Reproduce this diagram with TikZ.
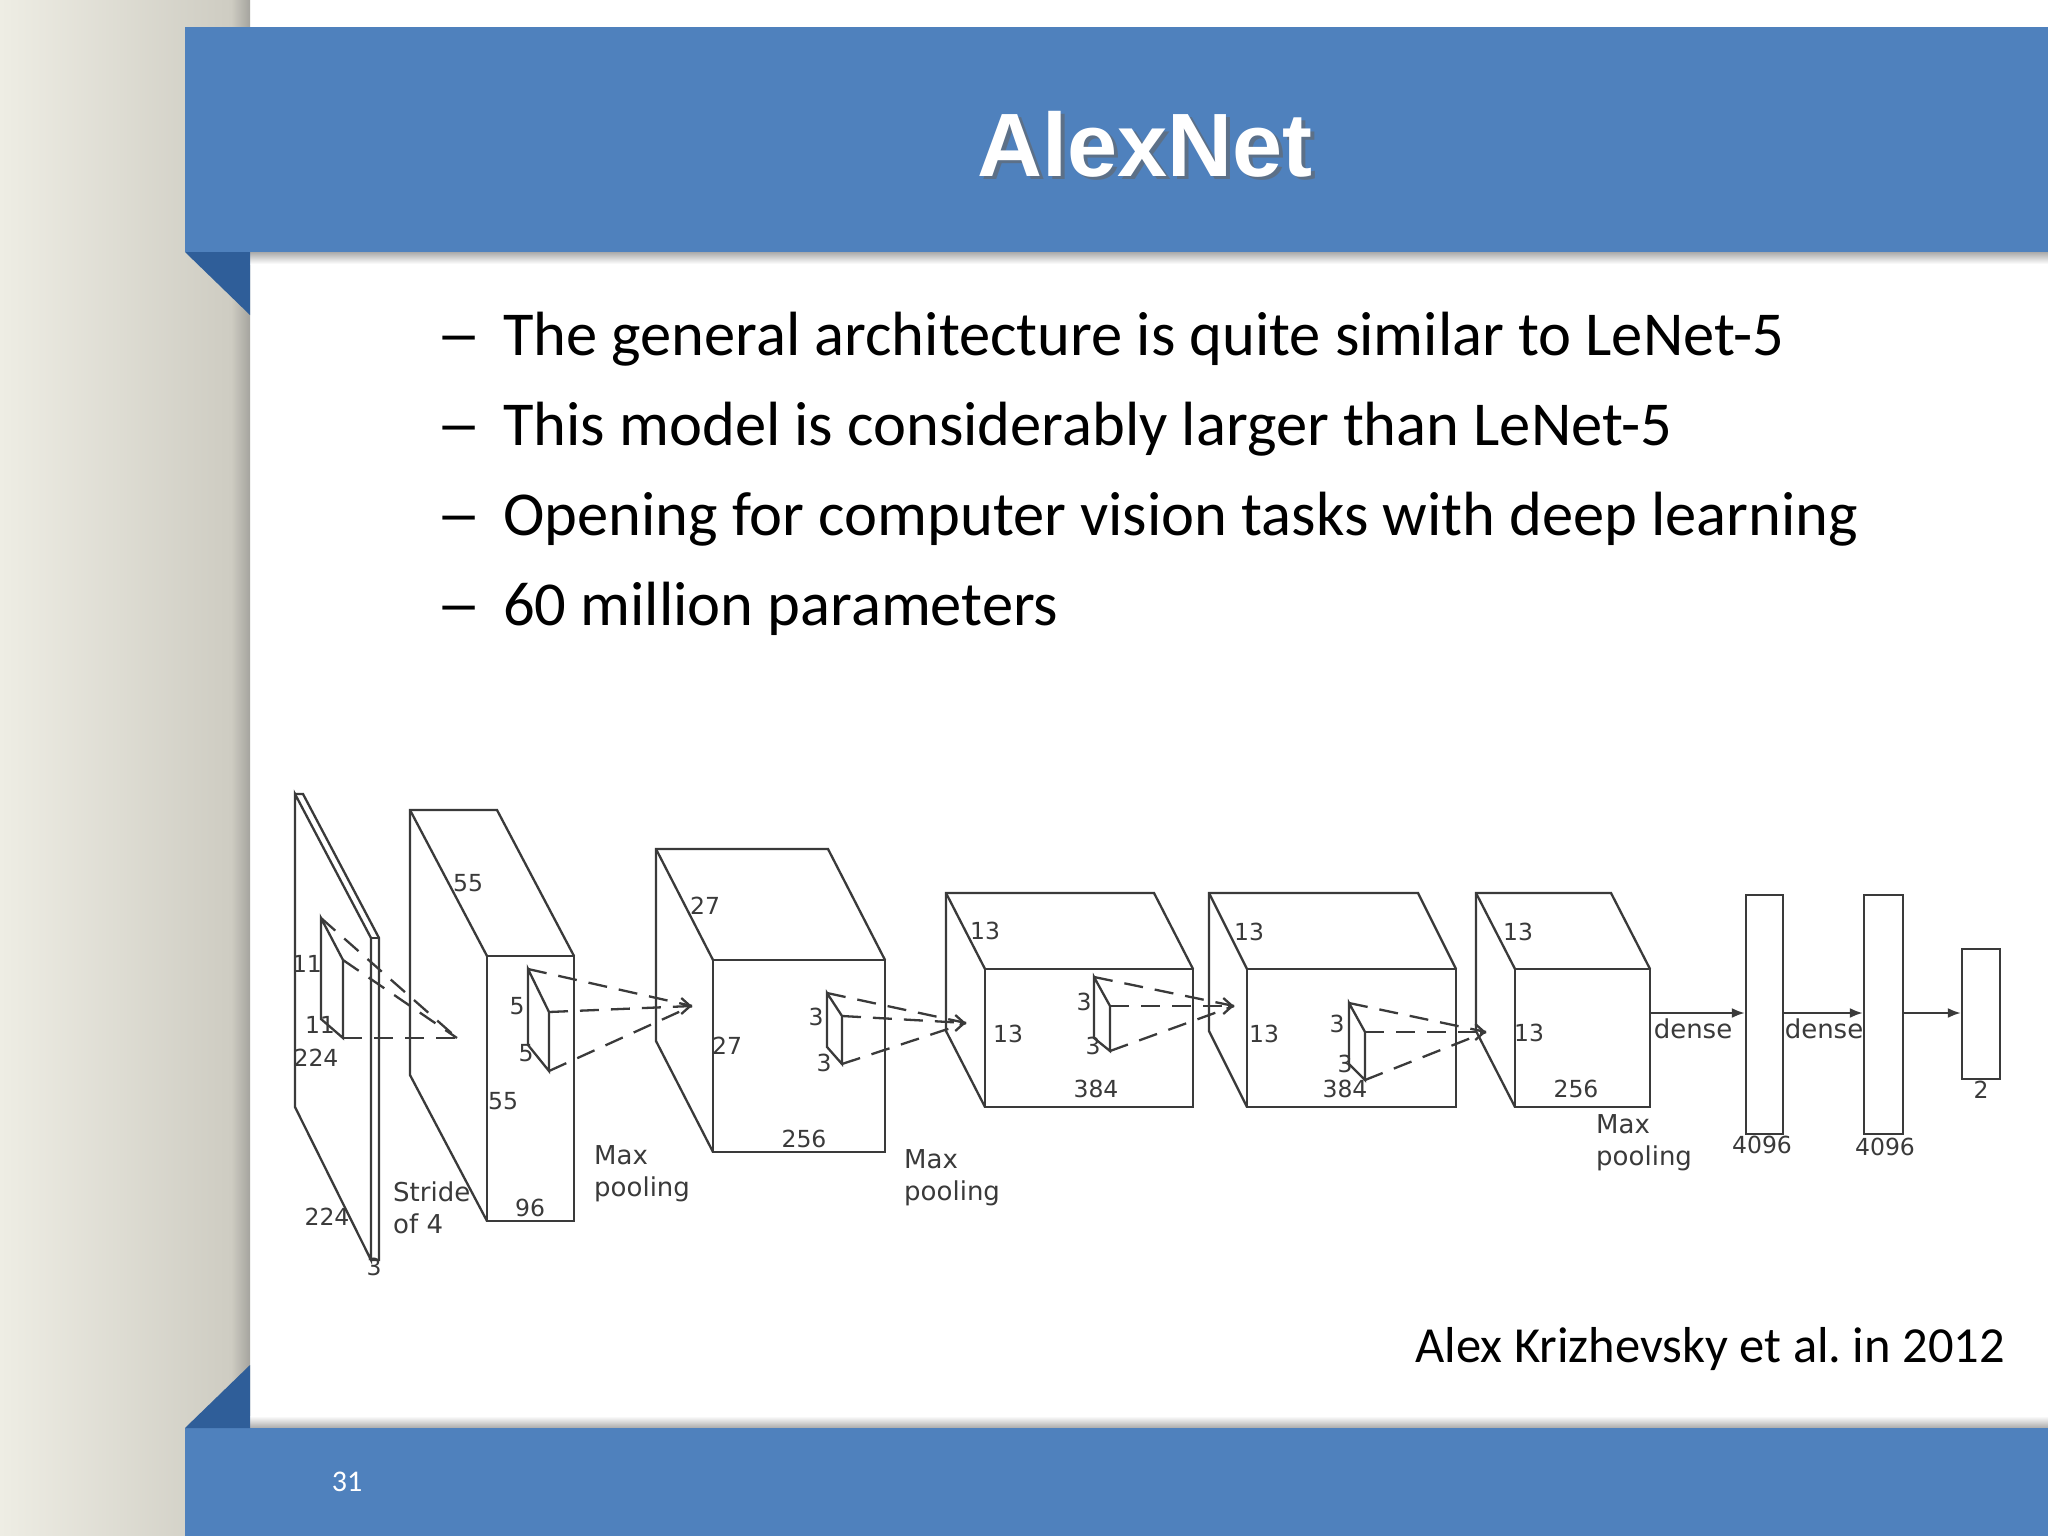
\documentclass[tikz,border=0pt]{standalone}
\usepackage{fontspec}
\setmainfont{Carlito}
\newfontfamily\titlefont{Liberation Sans}
\newfontfamily\dfont{DejaVu Sans}
\usetikzlibrary{arrows.meta,calc}
\definecolor{band}{HTML}{4F81BD}
\definecolor{fold}{HTML}{2F5E99}
\definecolor{ln}{HTML}{3A3A3A}
\tikzset{
  dl/.style={draw=ln,line width=2.3pt,line join=miter},
  dsh/.style={draw=ln,line width=2.3pt,dash pattern=on 19pt off 12pt},
  lab/.style={font=\dfont\fontsize{23.5}{26}\selectfont,text=ln,inner sep=0pt},
  blab/.style={font=\dfont\fontsize{26}{32}\selectfont,text=ln,inner sep=0pt,align=left},
  bul/.style={font=\fontsize{62.5}{64}\selectfont,anchor=base west,inner sep=0pt},
}
\newcommand{\cuboid}[7]{% name, bx, by, w, h, dx, dy
  \coordinate (#1-bl) at (#2,#3);
  \coordinate (#1-br) at (#2+#4,#3);
  \coordinate (#1-fl) at (#2+#6,#3+#7);
  \coordinate (#1-fr) at (#2+#4+#6,#3+#7);
  \coordinate (#1-fbl) at (#2+#6,#3+#7+#5);
  \coordinate (#1-fbr) at (#2+#4+#6,#3+#7+#5);
  \coordinate (#1-bbl) at (#2,#3+#5);
  \draw[dl] (#1-fbl) -- (#1-bbl) -- (#1-bl) -- (#1-br) -- (#1-fr);
  \draw[dl] (#1-bl) -- (#1-fl);
  \draw[dl] (#1-fl) rectangle (#1-fbr);
}
\newcommand{\kernbox}[7]{% name, backx, backtop, backbot, frontx, fronttop, frontbot
  \coordinate (#1-a) at (#2,#3);
  \coordinate (#1-b) at (#5,#6);
  \coordinate (#1-c) at (#5,#7);
  \coordinate (#1-d) at (#2,#4);
  \draw[dl] (#1-a) -- (#1-b) -- (#1-c) -- (#1-d) -- cycle;
}
\newcommand{\rays}[2]{% kernel name, target
  \draw[dsh] (#1-a) -- (#2);
  \draw[dsh] (#1-b) -- (#2);
  \draw[dsh] (#1-c) -- (#2);
  \draw[dl,-{Straight Barb[length=9pt,width=16pt]}] ($(#2)+(-6,0)$) -- (#2);
}
\begin{document}
\frenchspacing
\begin{tikzpicture}[x=1pt,y=-1pt]
\useasboundingbox (0,0) rectangle (2048,1536);
\fill[white] (0,0) rectangle (2048,1536);
% left strip
\shade[left color={rgb,255:red,238;green,237;blue,228}, right color={rgb,255:red,206;green,204;blue,194}] (0,0) rectangle (232,1536);
\shade[left color={rgb,255:red,206;green,204;blue,194}, right color={rgb,255:red,165;green,164;blue,158}] (231,0) rectangle (250,1536);
% header
\shade[top color={rgb,255:red,170;green,170;blue,170}, bottom color=white] (250,252) rectangle (2048,264);
\fill[band] (185,27) rectangle (2048,252);
\fill[fold] (185,252) -- (250,252) -- (250,315) -- cycle;
\node[font=\titlefont\bfseries\fontsize{90}{90}\selectfont,text=black!60,opacity=0.6] at (1149,147) {AlexNet};
\node[font=\titlefont\bfseries\fontsize{90}{90}\selectfont,text=white] (title) at (1145,144) {AlexNet};
% footer
\shade[bottom color={rgb,255:red,170;green,170;blue,170}, top color=white] (250,1416) rectangle (2048,1428);
\fill[band] (185,1428) rectangle (2048,1536);
\fill[fold] (185,1428) -- (250,1428) -- (250,1365) -- cycle;
\node[font=\fontsize{30}{30}\selectfont,text=white] (pg) at (347,1482) {31};
% bullets
\foreach \t [count=\i] in {The general architecture is quite similar to LeNet-5,This model is considerably larger than LeNet-5,Opening for computer vision tasks with deep learning,60 million parameters}{
  \node[bul] (d\i) at (436,{355+(\i-1)*90}) {\scalebox{1.45}[1]{–}};
  \node[bul] (b\i) at (503,{355+(\i-1)*90}) {\t};
}
\node[font=\fontsize{50.5}{52}\selectfont,anchor=base east,inner sep=0pt] (cite) at (2005,1362) {Alex Krizhevsky et al. in 2012};
% ===== diagram =====
% input plane
\coordinate (in-bt) at (295,794);
\coordinate (in-bb) at (295,1107);
\coordinate (in-ft) at (371,938);
\coordinate (in-fb) at (371,1260);
\draw[dl] (in-bb) -- (in-bt) -- (in-ft) -- (in-fb) -- cycle;
\draw[dl] (in-bt) -- ++(8,0) -- (379,938) -- (379,1260) -- (in-fb);
\draw[dl] (in-ft) -- (379,938);
\kernbox{k1}{321}{918}{1019}{343}{960}{1038}
\coordinate (t1) at (457,1038);
\draw[dsh] (k1-a) -- (t1);
\draw[dsh] (k1-b) -- (t1);
\draw[dsh] (k1-c) -- (t1);
\node[lab] at (307,964) {11};
\node[lab] at (320,1025) {11};
\node[lab] at (316,1058) {224};
\node[lab] at (327,1217) {224};
\node[lab] at (374,1267) {3};
% box 2
\cuboid{c2}{410}{810}{87}{265}{77}{146}
\kernbox{k2}{528}{969}{1045}{549}{1012}{1071}
\coordinate (t2) at (692,1006);
\rays{k2}{t2}
\node[lab] at (468,883) {55};
\node[lab] at (503,1101) {55};
\node[lab] at (530,1208) {96};
\node[lab] at (517,1006) {5};
\node[lab] at (526,1053) {5};
\node[blab,anchor=north west] at (393,1182) {Stride\\of 4};
\node[blab,anchor=north west] at (594,1145) {Max\\pooling};
% box 3
\cuboid{c3}{656}{849}{172}{192}{57}{111}
\kernbox{k3}{827}{993}{1047}{842}{1016}{1064}
\coordinate (t3) at (966,1023);
\rays{k3}{t3}
\node[lab] at (705,906) {27};
\node[lab] at (727,1046) {27};
\node[lab] at (804,1139) {256};
\node[lab] at (816,1017) {3};
\node[lab] at (824,1063) {3};
\node[blab,anchor=north west] at (904,1149) {Max\\pooling};
% box 4
\cuboid{c4}{946}{893}{208}{138}{39}{76}
\kernbox{k4}{1094}{977}{1038}{1110}{1006}{1051}
\coordinate (t4) at (1234,1006);
\rays{k4}{t4}
\node[lab] at (985,931) {13};
\node[lab] at (1008,1034) {13};
\node[lab] at (1096,1089) {384};
\node[lab] at (1084,1002) {3};
\node[lab] at (1093,1046) {3};
% box 5
\cuboid{c5}{1209}{893}{209}{138}{38}{76}
\kernbox{k5}{1349}{1003}{1064}{1365}{1032}{1080}
\coordinate (t5) at (1486,1032);
\rays{k5}{t5}
\node[lab] at (1249,932) {13};
\node[lab] at (1264,1034) {13};
\node[lab] at (1345,1089) {384};
\node[lab] at (1337,1024) {3};
\node[lab] at (1345,1064) {3};
% box 6
\cuboid{c6}{1476}{893}{135}{138}{39}{76}
\node[lab] at (1518,932) {13};
\node[lab] at (1529,1033) {13};
\node[lab] at (1576,1089) {256};
\node[blab,anchor=north west] at (1596,1114) {Max\\pooling};
% dense
\node[dl,draw,minimum width=37pt,minimum height=239pt,inner sep=0pt] (f1) at (1764.5,1014.5) {};
\node[dl,draw,minimum width=39pt,minimum height=239pt,inner sep=0pt] (f2) at (1883.5,1014.5) {};
\node[dl,draw,minimum width=38pt,minimum height=130pt,inner sep=0pt] (f3) at (1981,1014) {};
\coordinate (c6-out) at (c6-fr |- 0,1013);
\draw[dl,-{Latex[length=13pt,width=10pt]}] (c6-out) -- (c6-out -| f1.west);
\draw[dl,-{Latex[length=13pt,width=10pt]}] (f1.east |- c6-out) -- (c6-out -| f2.west);
\draw[dl,-{Latex[length=13pt,width=10pt]}] (f2.east |- c6-out) -- (c6-out -| f3.west);
\node[blab] at (1693,1029) {dense};
\node[blab] at (1824,1029) {dense};
\node[lab] at (1762,1145) {4096};
\node[lab] at (1885,1147) {4096};
\node[lab] at (1981,1090) {2};
\end{tikzpicture}
\end{document}
